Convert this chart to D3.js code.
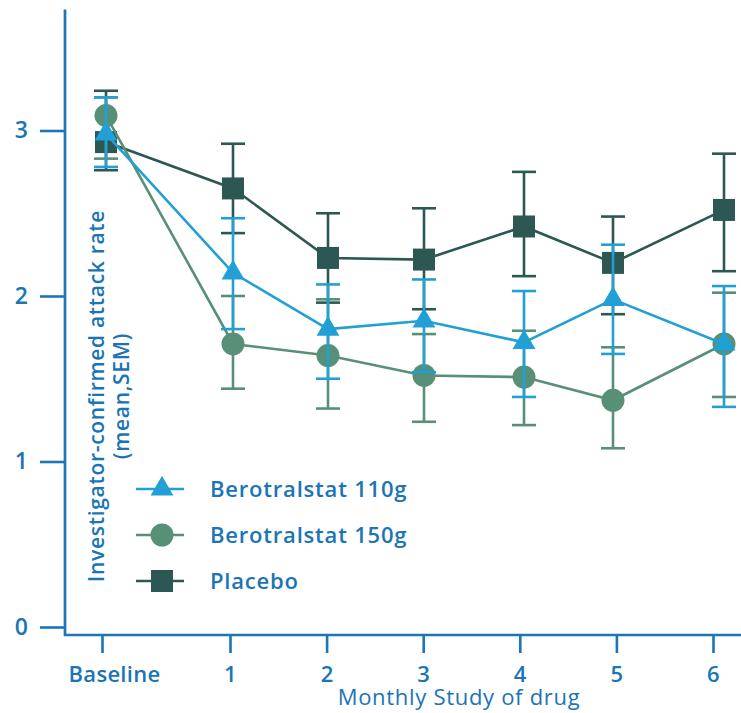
<!DOCTYPE html>
<html>
<head>
<meta charset="utf-8">
<script src="https://cdn.jsdelivr.net/npm/d3@7"></script>
<style>
  html, body { margin: 0; padding: 0; background: #ffffff; }
  svg { display: block; }
  text { font-family: "Open Sans", Lato, sans-serif; }
</style>
</head>
<body>
<svg id="chart" width="741" height="713"></svg>
<script>
// ---------------- data ----------------
const categories = ["Baseline", "1", "2", "3", "4", "5", "6"];
const yTicks = [0, 1, 2, 3];
const seriesNames = ["Berotralstat 110g", "Berotralstat 150g", "Placebo"];

const berotralstat110     = [2.98, 2.14, 1.80, 1.85, 1.72, 1.98, 1.71];
const berotralstat110Low  = [2.78, 1.80, 1.50, 1.54, 1.39, 1.65, 1.33];
const berotralstat110High = [3.20, 2.47, 2.07, 2.10, 2.03, 2.31, 2.06];

const berotralstat150     = [3.09, 1.71, 1.64, 1.52, 1.51, 1.37, 1.71];
const berotralstat150Low  = [2.83, 1.44, 1.32, 1.24, 1.22, 1.08, 1.39];
const berotralstat150High = [3.20, 2.00, 1.98, 1.77, 1.79, 1.69, 2.02];

const placebo     = [2.93, 2.65, 2.23, 2.22, 2.42, 2.20, 2.52];
const placeboLow  = [2.76, 2.38, 1.96, 1.92, 2.12, 1.89, 2.15];
const placeboHigh = [3.24, 2.92, 2.50, 2.53, 2.75, 2.48, 2.86];

// ---------------- styles ----------------
const AXIS = "#1a75b9";
const TEXT = "#1b74b6";
const C110 = "#22a0d5";
const C150 = "#588f77";
const CPLA = "#2c5752";

const svg = d3.select("#chart");

// scales
const y = d3.scaleLinear().domain([0, 3]).range([627, 130.5]);
const idx = categories.map((d, i) => i);
const xAxisScale = d3.scaleLinear().domain([0, 1, 6]).range([102, 230, 713]);
const xMark = d3.scaleLinear().domain(idx).range([106, 233, 328, 424, 524, 613, 724]);

// ---------------- axes ----------------
const yAxis = svg.append("g")
  .attr("transform", "translate(65,0)")
  .call(d3.axisLeft(y).tickValues(yTicks).tickFormat(d3.format("d")).tickSize(25).tickPadding(12));
yAxis.select(".domain").remove();
yAxis.selectAll(".tick line").attr("stroke", AXIS).attr("stroke-width", 2.6);
yAxis.selectAll(".tick text")
  .attr("fill", TEXT).attr("font-size", 23).attr("font-weight", 600)
  .style("font-family", "'Open Sans', sans-serif");

const xAxis = svg.append("g")
  .attr("transform", "translate(0,635)")
  .call(d3.axisBottom(xAxisScale).tickValues(idx).tickFormat(i => categories[i]).tickSize(18).tickPadding(10));
xAxis.select(".domain").remove();
xAxis.selectAll(".tick line").attr("stroke", AXIS).attr("stroke-width", 2.6);
xAxis.selectAll(".tick text")
  .attr("fill", TEXT).attr("font-size", 22).attr("font-weight", 600)
  .style("font-family", "'Open Sans', sans-serif")
  .style("letter-spacing", "0.3px")
  .attr("y", 46.5).attr("dy", 0)
  .attr("dx", (d, i) => i === 0 ? 12 : 0);

// axis lines
svg.append("line").attr("x1", 65).attr("x2", 65).attr("y1", 9.5).attr("y2", 636)
  .attr("stroke", AXIS).attr("stroke-width", 2.7);
svg.append("line").attr("x1", 64).attr("x2", 741).attr("y1", 635).attr("y2", 635)
  .attr("stroke", AXIS).attr("stroke-width", 2.7);

// axis titles
svg.append("text")
  .attr("x", 459).attr("y", 705)
  .attr("text-anchor", "middle")
  .attr("fill", TEXT).attr("font-size", 22).attr("font-weight", 500)
  .style("letter-spacing", "0.7px")
  .text("Monthly Study of drug");

const yTitle = svg.append("g").attr("transform", "translate(104,396) rotate(-90)");
yTitle.append("text").attr("x", 0).attr("y", 0)
  .attr("text-anchor", "middle").attr("fill", TEXT)
  .attr("font-size", 21).attr("font-weight", 600)
  .style("letter-spacing", "0.7px")
  .text("Investigator-confirmed  attack rate");
yTitle.append("text").attr("x", 0).attr("y", 25)
  .attr("text-anchor", "middle").attr("fill", TEXT)
  .attr("font-size", 21).attr("font-weight", 600)
  .style("letter-spacing", "0.7px")
  .text("(mean,SEM)");

// ---------------- series ----------------
const series = [
  { name: seriesNames[2], vals: placebo, lo: placeboLow, hi: placeboHigh, color: CPLA, shape: d3.symbolSquare, size: 484 },
  { name: seriesNames[1], vals: berotralstat150, lo: berotralstat150Low, hi: berotralstat150High, color: C150, shape: d3.symbolCircle, size: 415 },
  { name: seriesNames[0], vals: berotralstat110, lo: berotralstat110Low, hi: berotralstat110High, color: C110, shape: d3.symbolTriangle, size: 225 }
];

const capHalf = 12;
const lineGen = d3.line().x((d, i) => xMark(i)).y(d => y(d));

series.forEach(s => {
  const g = svg.append("g");
  const eb = g.selectAll("g.eb").data(s.vals.map((v, i) => ({ i, lo: s.lo[i], hi: s.hi[i] })))
    .enter().append("g");
  eb.append("line")
    .attr("x1", d => xMark(d.i)).attr("x2", d => xMark(d.i))
    .attr("y1", d => y(d.hi)).attr("y2", d => y(d.lo))
    .attr("stroke", s.color).attr("stroke-width", 2.6);
  eb.append("line")
    .attr("x1", d => xMark(d.i) - capHalf).attr("x2", d => xMark(d.i) + capHalf)
    .attr("y1", d => y(d.hi)).attr("y2", d => y(d.hi))
    .attr("stroke", s.color).attr("stroke-width", 2.6);
  eb.append("line")
    .attr("x1", d => xMark(d.i) - capHalf).attr("x2", d => xMark(d.i) + capHalf)
    .attr("y1", d => y(d.lo)).attr("y2", d => y(d.lo))
    .attr("stroke", s.color).attr("stroke-width", 2.6);
  g.append("path").datum(s.vals)
    .attr("d", lineGen)
    .attr("fill", "none").attr("stroke", s.color).attr("stroke-width", 2.6);
  g.selectAll("path.m").data(s.vals).enter().append("path")
    .attr("class", "m")
    .attr("d", d3.symbol().type(s.shape).size(s.size))
    .attr("transform", (d, i) => `translate(${xMark(i)},${y(d)})`)
    .attr("fill", s.color);
});

// ---------------- legend ----------------
const legendItems = [series[2], series[1], series[0]];
const legY = d3.scalePoint().domain(legendItems.map(d => d.name)).range([489, 581]);
const leg = svg.append("g");
legendItems.forEach(s => {
  const gy = legY(s.name);
  leg.append("line").attr("x1", 136).attr("x2", 184).attr("y1", gy).attr("y2", gy)
    .attr("stroke", s.color).attr("stroke-width", 2.6);
  leg.append("path")
    .attr("d", d3.symbol().type(s.shape).size(s.size))
    .attr("transform", `translate(162,${gy})`)
    .attr("fill", s.color);
  leg.append("text")
    .attr("x", 210).attr("y", gy).attr("dy", "0.36em")
    .attr("fill", TEXT).attr("font-size", 22).attr("font-weight", 600)
    .style("letter-spacing", "0.8px")
    .text(s.name);
});
</script>
</body>
</html>
